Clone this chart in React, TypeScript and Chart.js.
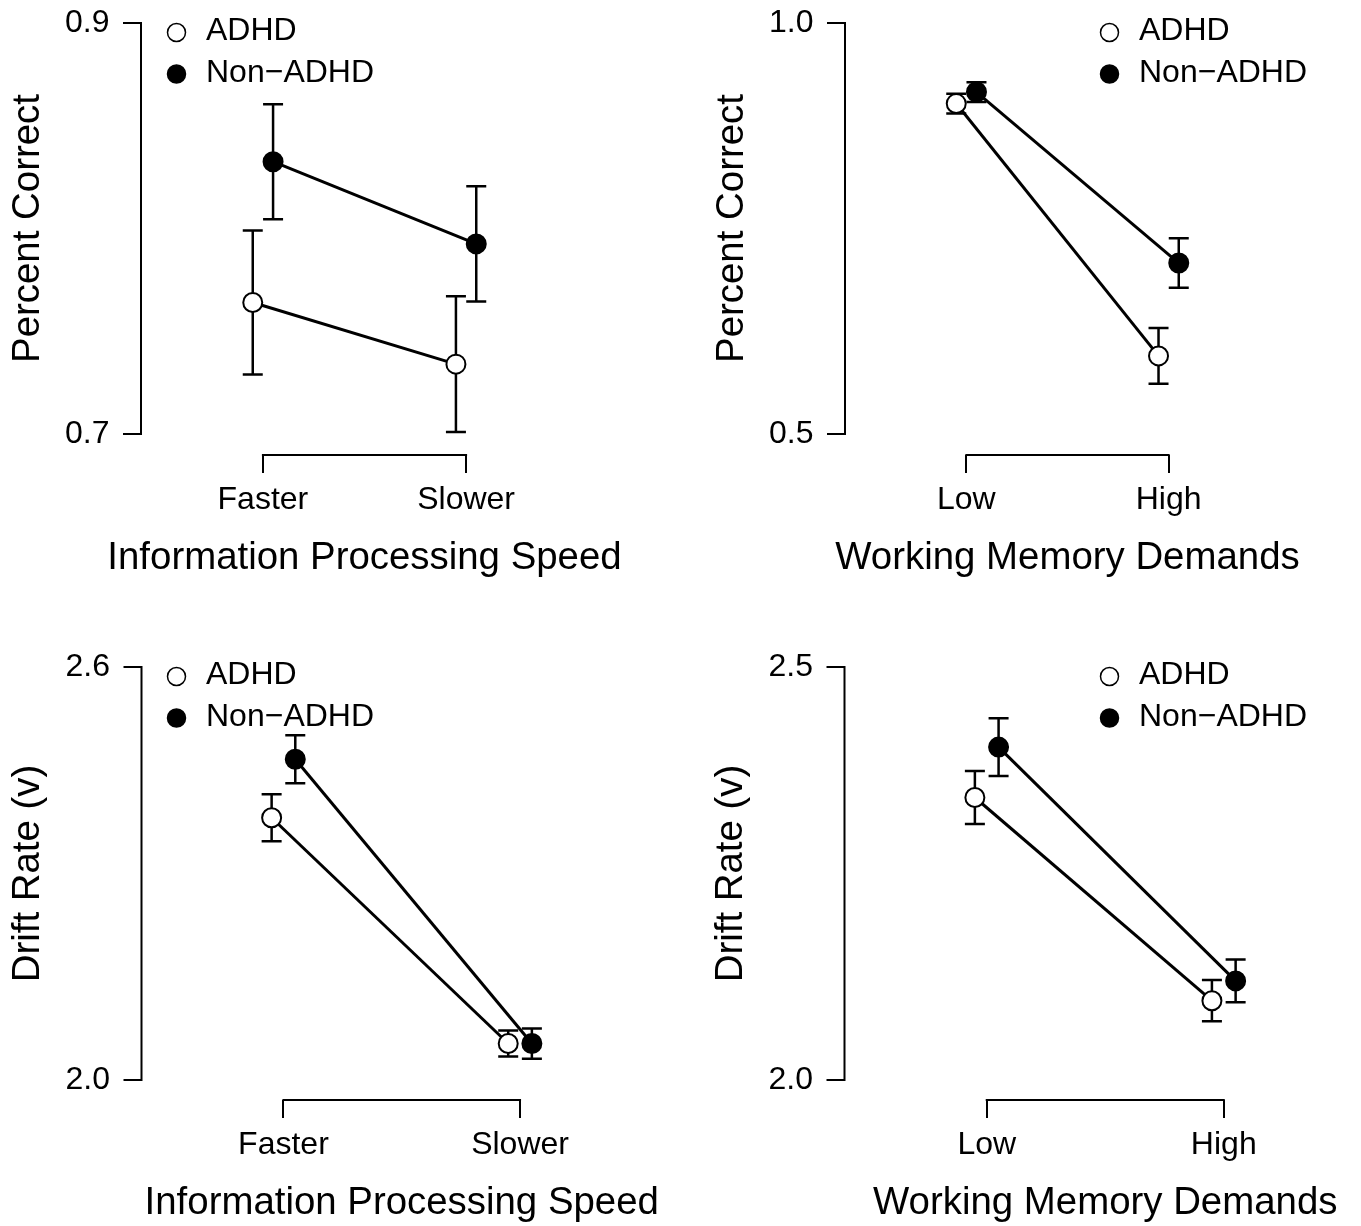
import React, { useEffect, useRef } from "react";
import { Chart, registerables } from "chart.js";

Chart.register(...registerables);

const FONT_FAMILY = "'Liberation Sans', Arial, Helvetica, sans-serif";
const TICK_FONT = 32;
const TITLE_FONT = 38.4;
const LEGEND_FONT = 32;

// ---------- data ----------
const groupLabels = ["ADHD", "Non\u2212ADHD"];
const speedCategories = ["Faster", "Slower"];
const memoryCategories = ["Low", "High"];

// Top-left: percent correct by information processing speed
const accuracySpeedTicks = [0.7, 0.9];
const accuracySpeedADHD = [0.764, 0.734];
const accuracySpeedADHDErr = [0.035, 0.033];
const accuracySpeedNonADHD = [0.8325, 0.7925];
const accuracySpeedNonADHDErr = [0.028, 0.028];

// Top-right: percent correct by working memory demands
const accuracyMemoryTicks = [0.5, 1.0];
const accuracyMemoryADHD = [0.902, 0.595];
const accuracyMemoryADHDErr = [0.012, 0.034];
const accuracyMemoryNonADHD = [0.916, 0.708];
const accuracyMemoryNonADHDErr = [0.012, 0.03];

// Bottom-left: drift rate by information processing speed
const driftSpeedTicks = [2.0, 2.6];
const driftSpeedADHD = [2.381, 2.053];
const driftSpeedADHDErr = [0.034, 0.019];
const driftSpeedNonADHD = [2.466, 2.053];
const driftSpeedNonADHDErr = [0.035, 0.022];

// Bottom-right: drift rate by working memory demands
const driftMemoryTicks = [2.0, 2.5];
const driftMemoryADHD = [2.342, 2.096];
const driftMemoryADHDErr = [0.032, 0.025];
const driftMemoryNonADHD = [2.403, 2.12];
const driftMemoryNonADHDErr = [0.035, 0.026];

// ---------- layout / style constants ----------
const DODGE = 0.05;
const X_MIN = 0.4;
const X_MAX = 2.6;
const TICK_LEN = 18;
const X_TICK_PAD = 8;
const X_TITLE_OFFSET = 103.5;
const Y_TICK_PAD = 13.5;
const Y_TITLE_DIST = 112.7;
const CAP = 10;
const LEGEND_GAP = 41.5;

type PanelSpec = {
  id: string;
  canvas: { x: number; y: number; w: number; h: number };
  area: { left: number; right: number; bottom: number };
  yTicks: number[];
  yTickPix: [number, number];
  yTitle: string;
  xTitle: string;
  categories: string[];
  adhd: number[];
  adhdErr: number[];
  non: number[];
  nonErr: number[];
  legend: { cx: number; cy: number };
};

const panels: PanelSpec[] = [
  {
    id: "acc-speed",
    canvas: { x: 0, y: 0, w: 680, h: 613 },
    area: { left: 141, right: 588, bottom: 455 },
    yTicks: accuracySpeedTicks,
    yTickPix: [434, 23],
    yTitle: "Percent Correct",
    xTitle: "Information Processing Speed",
    categories: speedCategories,
    adhd: accuracySpeedADHD,
    adhdErr: accuracySpeedADHDErr,
    non: accuracySpeedNonADHD,
    nonErr: accuracySpeedNonADHDErr,
    legend: { cx: 176.5, cy: 32.5 },
  },
  {
    id: "acc-memory",
    canvas: { x: 680, y: 0, w: 681, h: 613 },
    area: { left: 845, right: 1290, bottom: 455 },
    yTicks: accuracyMemoryTicks,
    yTickPix: [434, 23],
    yTitle: "Percent Correct",
    xTitle: "Working Memory Demands",
    categories: memoryCategories,
    adhd: accuracyMemoryADHD,
    adhdErr: accuracyMemoryADHDErr,
    non: accuracyMemoryNonADHD,
    nonErr: accuracyMemoryNonADHDErr,
    legend: { cx: 1109.5, cy: 32.5 },
  },
  {
    id: "drift-speed",
    canvas: { x: 0, y: 613, w: 680, h: 620 },
    area: { left: 141.5, right: 662, bottom: 1100 },
    yTicks: driftSpeedTicks,
    yTickPix: [1080, 667],
    yTitle: "Drift Rate (v)",
    xTitle: "Information Processing Speed",
    categories: speedCategories,
    adhd: driftSpeedADHD,
    adhdErr: driftSpeedADHDErr,
    non: driftSpeedNonADHD,
    nonErr: driftSpeedNonADHDErr,
    legend: { cx: 176.5, cy: 676.5 },
  },
  {
    id: "drift-memory",
    canvas: { x: 680, y: 613, w: 700, h: 620 },
    area: { left: 844.5, right: 1366, bottom: 1100 },
    yTicks: driftMemoryTicks,
    yTickPix: [1080, 667],
    yTitle: "Drift Rate (v)",
    xTitle: "Working Memory Demands",
    categories: memoryCategories,
    adhd: driftMemoryADHD,
    adhdErr: driftMemoryADHDErr,
    non: driftMemoryNonADHD,
    nonErr: driftMemoryNonADHDErr,
    legend: { cx: 1109.5, cy: 676.5 },
  },
];

function makeDataset(label: string, values: number[], errs: number[], shift: number, fill: string) {
  return {
    label,
    data: values.map((v, i) => ({ x: i + 1 + shift, y: v })),
    errors: errs,
    borderColor: "#000000",
    borderWidth: 3,
    showLine: true,
    fill: false,
    tension: 0,
    pointRadius: 9.5,
    pointHoverRadius: 9.5,
    pointBackgroundColor: fill,
    pointBorderColor: "#000000",
    pointBorderWidth: 2,
  };
}

function Panel({ spec }: { spec: PanelSpec }) {
  const ref = useRef<HTMLCanvasElement | null>(null);

  useEffect(() => {
    const canvas = ref.current;
    if (!canvas) return;
    const cv = spec.canvas;
    const L = spec.area.left - cv.x;
    const R = spec.area.right - cv.x;
    const B = spec.area.bottom - cv.y;
    const pLo = spec.yTickPix[0] - cv.y;
    const pHi = spec.yTickPix[1] - cv.y;
    const lo = spec.yTicks[0];
    const hi = spec.yTicks[spec.yTicks.length - 1];
    const ppu = (pLo - pHi) / (hi - lo);
    const margin = B - pLo;
    const T = pHi - margin;
    const yMin = lo - margin / ppu;
    const yMax = hi + margin / ppu;
    const titleLH = TITLE_FONT * 1.2;
    const xAxisH = X_TITLE_OFFSET + titleLH / 2;
    const yTitlePad = L - Y_TITLE_DIST - titleLH / 2;
    const nCat = spec.categories.length;

    const errorBarPlugin = {
      id: "errorBars",
      beforeDatasetsDraw(chart: any) {
        const ctx = chart.ctx;
        const xs = chart.scales.x;
        const ys = chart.scales.y;
        ctx.save();
        ctx.strokeStyle = "#000000";
        ctx.lineWidth = 2.5;
        chart.data.datasets.forEach((ds: any) => {
          ds.data.forEach((pt: any, i: number) => {
            const e = ds.errors[i];
            const px = xs.getPixelForValue(pt.x);
            const top = ys.getPixelForValue(pt.y + e);
            const bot = ys.getPixelForValue(pt.y - e);
            ctx.beginPath();
            ctx.moveTo(px, top);
            ctx.lineTo(px, bot);
            ctx.moveTo(px - CAP, top);
            ctx.lineTo(px + CAP, top);
            ctx.moveTo(px - CAP, bot);
            ctx.lineTo(px + CAP, bot);
            ctx.stroke();
          });
        });
        ctx.restore();
      },
    };

    const axisDecorPlugin = {
      id: "axisDecor",
      afterDraw(chart: any) {
        const ctx = chart.ctx;
        const xs = chart.scales.x;
        const ys = chart.scales.y;
        const { left, right, bottom } = chart.chartArea;
        ctx.save();
        ctx.strokeStyle = "#000000";
        ctx.lineWidth = 2;
        ctx.lineCap = "square";
        ctx.beginPath();
        ctx.moveTo(left, ys.getPixelForValue(hi));
        ctx.lineTo(left, ys.getPixelForValue(lo));
        ctx.moveTo(xs.getPixelForValue(1), bottom);
        ctx.lineTo(xs.getPixelForValue(nCat), bottom);
        ctx.stroke();
        // x-axis title (drawn here so it is not squeezed to the plot width)
        ctx.fillStyle = "#000000";
        ctx.font = `${TITLE_FONT}px ${FONT_FAMILY}`;
        ctx.textAlign = "center";
        ctx.textBaseline = "middle";
        ctx.fillText(spec.xTitle, (left + right) / 2, bottom + X_TITLE_OFFSET);
        ctx.restore();
      },
    };

    const legendPlugin = {
      id: "rLegend",
      afterDraw(chart: any) {
        const ctx = chart.ctx;
        ctx.save();
        chart.data.datasets.forEach((ds: any, i: number) => {
          const cx = spec.legend.cx - cv.x;
          const cy = spec.legend.cy - cv.y + i * LEGEND_GAP;
          ctx.beginPath();
          ctx.arc(cx, cy, 9, 0, Math.PI * 2);
          ctx.fillStyle = ds.pointBackgroundColor;
          ctx.fill();
          ctx.lineWidth = 1.5;
          ctx.strokeStyle = "#000000";
          ctx.stroke();
          ctx.fillStyle = "#000000";
          ctx.font = `${LEGEND_FONT}px ${FONT_FAMILY}`;
          ctx.textAlign = "left";
          ctx.textBaseline = "middle";
          ctx.fillText(ds.label, cx + 29.5, cy - 1);
        });
        ctx.restore();
      },
    };

    const chart = new Chart(canvas, {
      type: "line",
      data: {
        datasets: [
          makeDataset(groupLabels[0], spec.adhd, spec.adhdErr, -DODGE, "#ffffff"),
          makeDataset(groupLabels[1], spec.non, spec.nonErr, DODGE, "#000000"),
        ] as any,
      },
      options: {
        responsive: false,
        animation: false,
        devicePixelRatio: 1,
        events: [],
        layout: {
          autoPadding: false,
          padding: { left: 0, top: T, right: cv.w - R, bottom: cv.h - B - xAxisH },
        },
        plugins: {
          legend: { display: false },
          tooltip: { enabled: false },
          title: { display: false },
        },
        scales: {
          x: {
            type: "linear",
            position: "bottom",
            min: X_MIN,
            max: X_MAX,
            afterBuildTicks: (s: any) => {
              s.ticks = spec.categories.map((_, i) => ({ value: i + 1 }));
            },
            afterFit: (s: any) => {
              s.height = xAxisH;
              s.paddingLeft = 0;
              s.paddingRight = 0;
            },
            ticks: {
              autoSkip: false,
              maxRotation: 0,
              minRotation: 0,
              padding: X_TICK_PAD,
              color: "#000000",
              font: { family: FONT_FAMILY, size: TICK_FONT },
              callback: (v: any) => spec.categories[Math.round(Number(v)) - 1] ?? "",
            },
            grid: {
              display: true,
              drawOnChartArea: false,
              drawTicks: true,
              tickLength: TICK_LEN,
              color: "#000000",
              lineWidth: 2,
            },
            border: { display: false },
            title: { display: false },
          },
          y: {
            type: "linear",
            position: "left",
            min: yMin,
            max: yMax,
            afterBuildTicks: (s: any) => {
              s.ticks = spec.yTicks.map((v) => ({ value: v }));
            },
            afterFit: (s: any) => {
              s.width = L;
              s.paddingTop = 0;
              s.paddingBottom = 0;
            },
            ticks: {
              autoSkip: false,
              padding: Y_TICK_PAD,
              color: "#000000",
              font: { family: FONT_FAMILY, size: TICK_FONT },
              callback: (v: any) => Number(v).toFixed(1),
            },
            grid: {
              display: true,
              drawOnChartArea: false,
              drawTicks: true,
              tickLength: TICK_LEN,
              color: "#000000",
              lineWidth: 2,
            },
            border: { display: false },
            title: {
              display: true,
              text: spec.yTitle,
              color: "#000000",
              font: { family: FONT_FAMILY, size: TITLE_FONT },
              padding: { top: yTitlePad, bottom: 0 },
            },
          },
        },
      } as any,
      plugins: [errorBarPlugin, axisDecorPlugin, legendPlugin],
    });

    return () => {
      chart.destroy();
    };
  }, [spec]);

  const cv = spec.canvas;
  return (
    <canvas
      ref={ref}
      width={cv.w}
      height={cv.h}
      style={{ position: "absolute", left: cv.x, top: cv.y, width: cv.w, height: cv.h, display: "block" }}
    />
  );
}

export default function App() {
  return (
    <div
      style={{
        position: "absolute",
        left: 0,
        top: 0,
        width: 1361,
        height: 1226,
        overflow: "hidden",
        background: "#ffffff",
      }}
    >
      {panels.map((p) => (
        <Panel key={p.id} spec={p} />
      ))}
    </div>
  );
}
